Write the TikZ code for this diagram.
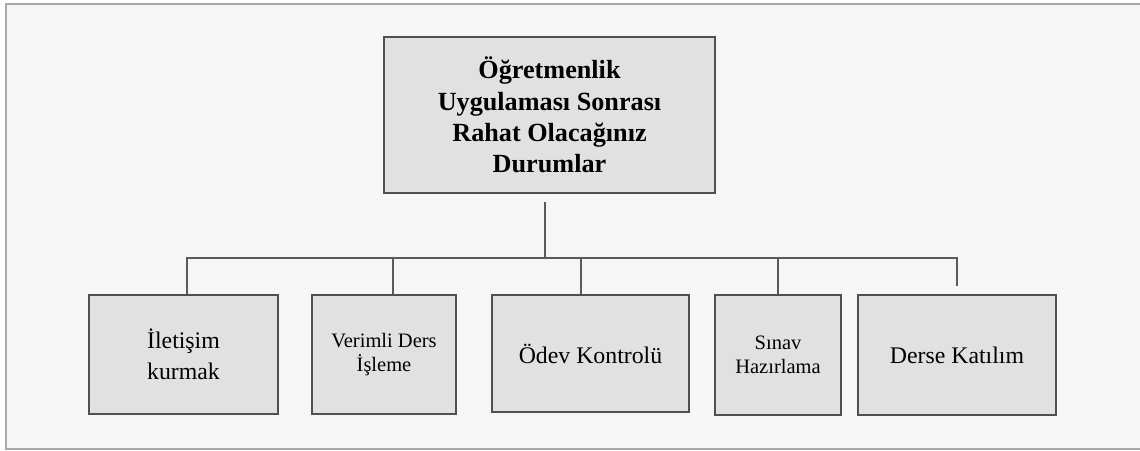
\documentclass[tikz,border=0pt]{standalone}
\usepackage{fontspec}
\setmainfont{Liberation Serif}
\definecolor{bgc}{HTML}{F6F6F6}
\definecolor{framec}{HTML}{A8A8A8}
\definecolor{boxfill}{HTML}{E1E1E1}
\definecolor{boxline}{HTML}{505050}
\definecolor{linec}{HTML}{5A5A5A}
\tikzset{
  box/.style={draw=boxline, fill=boxfill, line width=1.6pt, inner sep=0pt, align=center, text=black},
  bigtxt/.style={font=\fontsize{23.8}{31.5}\selectfont},
  smalltxt/.style={font=\fontsize{20.5}{24.5}\selectfont},
  conn/.style={draw=linec, line width=1.6pt},
}
\begin{document}
\begin{tikzpicture}[x=1pt,y=-1pt]
\useasboundingbox (0,0) rectangle (1140,450);
\fill[white] (0,0) rectangle (1140,450);
\draw[framec, fill=bgc, line width=1.2pt] (6,4) rectangle (1145,449);

\node[box, minimum width=331pt, minimum height=156pt,
      font=\fontsize{26.2}{31.2}\selectfont\bfseries] (top) at (549.5,115)
  {Öğretmenlik\\Uygulaması Sonrası\\Rahat Olacağınız\\Durumlar};

\node[box, bigtxt, minimum width=189pt, minimum height=119pt] (b1) at (183.5,354.5) {İletişim\\kurmak};
\node[box, smalltxt, minimum width=144pt, minimum height=119pt] (b2) at (384,354.5) {Verimli Ders\\İşleme};
\node[box, bigtxt, minimum width=197pt, minimum height=117pt] (b3) at (590.5,353.5) {Ödev Kontrolü};
\node[box, smalltxt, minimum width=126pt, minimum height=120pt] (b4) at (778,355) {Sınav\\Hazırlama};
\node[box, bigtxt, minimum width=198pt, minimum height=120pt] (b5) at (957,355) {Derse Katılım};

\coordinate (ts) at (545,202);
\coordinate (tb) at (545,258);
\coordinate (j1) at (187,258);
\coordinate (j2) at (393,258);
\coordinate (j3) at (581,258);
\coordinate (j4) at (778,258);
\coordinate (j5) at (957,258);
\coordinate (e5) at (957,286);

\draw[conn] (ts) -- (tb);
\draw[conn] (j1 |- b1.north) -- (j1) -- (j5) -- (e5);
\draw[conn] (j2) -- (j2 |- b2.north);
\draw[conn] (j3) -- (j3 |- b3.north);
\draw[conn] (j4) -- (j4 |- b4.north);
\end{tikzpicture}
\end{document}
